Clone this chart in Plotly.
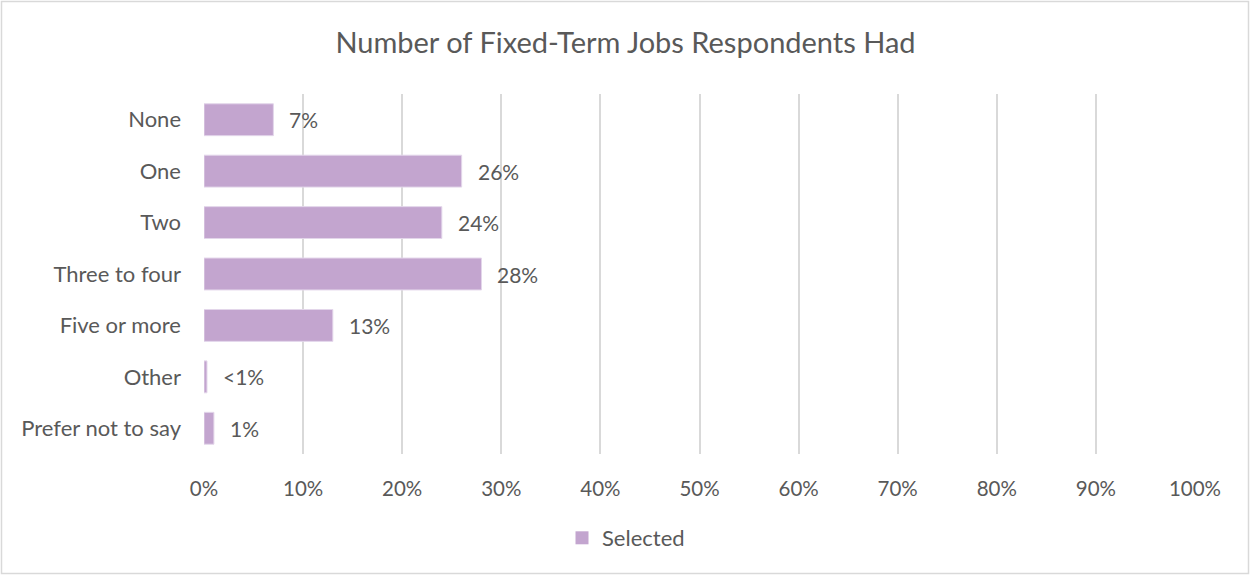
import plotly.graph_objects as go

categories = ["None", "One", "Two", "Three to four", "Five or more", "Other", "Prefer not to say"]
values = [7, 26, 24, 28, 13, 0.3, 1]
labels = ["7%", "26%", "24%", "28%", "13%", "<1%", "1%"]
x_ticks = [0, 10, 20, 30, 40, 50, 60, 70, 80, 90, 100]
x_tick_labels = [f"{t}%" for t in x_ticks]

W, H = 1250, 575
ML, MR, MT, MB = 204, 55, 94, 121
PW, PH = W - ML - MR, H - MT - MB

FONT = "Lato"
TXT = "#595959"
BAR = "#C3A5CF"
GRID = "#D9D9D9"

fig = go.Figure()
fig.add_trace(go.Bar(
    y=categories, x=values, orientation="h", name="Selected",
    marker=dict(color=BAR, line=dict(color="#E3D6EA", width=1)),
    hoverinfo="skip", showlegend=False,
))
# legend entry with a larger square swatch
fig.add_trace(go.Scatter(
    x=[None], y=[None], mode="markers", name="Selected",
    marker=dict(symbol="square", size=13, color=BAR),
    hoverinfo="skip", showlegend=True,
))

# value labels placed just past the end of each bar
for c, v, t in zip(categories, values, labels):
    fig.add_annotation(x=v, y=c, text=t, showarrow=False, xanchor="left",
                       xshift=14, font=dict(family=FONT, size=21, color=TXT))

# light frame around the whole chart
fig.add_shape(type="rect", xref="paper", yref="paper",
              x0=(1.5 - ML) / PW, x1=(W - 1.5 - ML) / PW,
              y0=-(H - 1.5 - MT - PH) / PH, y1=1 + (MT - 1.5) / PH,
              line=dict(color=GRID, width=1.5), layer="below")

fig.update_layout(
    width=W, height=H,
    margin=dict(l=ML, r=MR, t=MT, b=MB),
    paper_bgcolor="white", plot_bgcolor="white",
    bargap=0.38,
    title=dict(text="Number of Fixed-Term Jobs Respondents Had",
               x=(625.5) / W, xanchor="center", y=1 - 43 / H, yanchor="middle",
               font=dict(family=FONT, size=29, color=TXT)),
    xaxis=dict(range=[0, 100], tickvals=x_ticks, ticktext=x_tick_labels,
               showgrid=True, gridcolor=GRID, gridwidth=2,
               zeroline=False, showline=False, ticks="",
               ticklabelstandoff=20,
               tickfont=dict(family=FONT, size=20.5, color=TXT)),
    yaxis=dict(categoryorder="array", categoryarray=categories[::-1],
               showgrid=False, zeroline=False, showline=False, ticks="",
               ticklabelstandoff=22,
               tickfont=dict(family=FONT, size=22, color=TXT)),
    showlegend=True,
    legend=dict(orientation="h", x=(626 - ML) / PW, xanchor="center",
                y=-(538 - MT - PH) / PH, yanchor="middle",
                itemwidth=30, tracegroupgap=0,
                font=dict(family=FONT, size=22, color=TXT)),
)

fig.write_html("out.html")
